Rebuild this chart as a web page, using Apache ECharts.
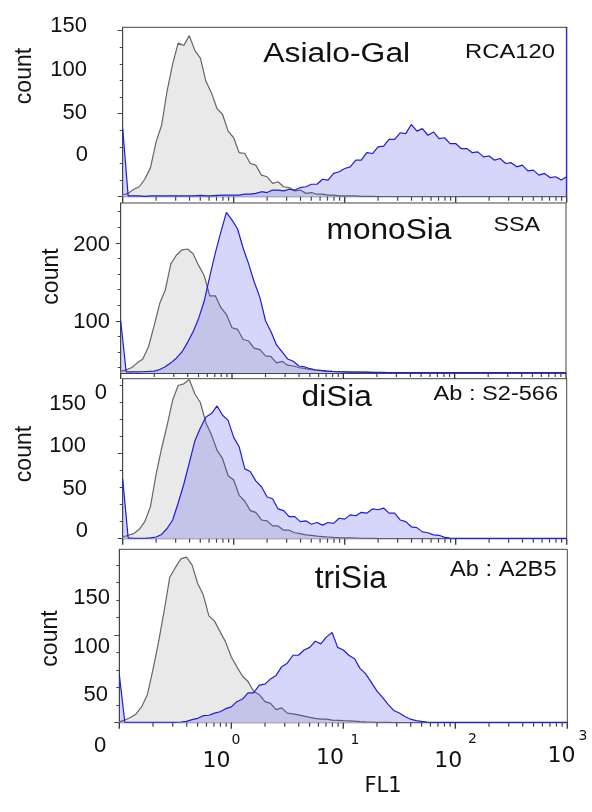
<!DOCTYPE html>
<html><head><meta charset="utf-8">
<script src="https://cdn.jsdelivr.net/npm/echarts@6/dist/echarts.min.js"></script>
<style>html,body{margin:0;padding:0;background:#fff}#c{width:592px;height:812px}</style>
</head><body><div id="c"></div>
<script>
// FL1 channel centres (log scale, 20 per decade)
const fl1 = [0.1,0.112,0.126,0.141,0.158,0.178,0.2,0.224,0.251,0.282,0.316,0.355,0.398,0.447,0.501,0.562,0.631,0.708,0.794,0.891,
1,1.12,1.26,1.41,1.58,1.78,2,2.24,2.51,2.82,3.16,3.55,3.98,4.47,5.01,5.62,6.31,7.08,7.94,8.91,
10,11.2,12.6,14.1,15.8,17.8,20,22.4,25.1,28.2,31.6,35.5,39.8,44.7,50.1,56.2,63.1,70.8,79.4,89.1,
100,112,126,141,158,178,200,224,251,282,316,355,398,447,501,562,631,708,794,891,1000];

// Panel 1: Asialo-Gal / RCA120
const p1Gray = [2,4,9,12,21,35,66,86,127,160, 185,182,194,176,167,139,125,106,99,79, 71,53,52,40,38,26,24,16,18,12,
11,7,8,4,5,3,3,2,2,1, 1,1,1,0.5,0.5,0.5,0,0,0,0, 0,0,0,0,0,0,0,0,0,0, 0,0,0,0,0,0,0,0,0,0, 0,0,0,0,0,0,0,0,0,0, 0];
const p1Blue = [82,1,1,1,0.5,1,1,1,1,1, 1,1,1,1,1.5,1,1,1.5,2,2, 2,2,3,3,4,6,5,8,8,7, 9,8,11,12,15,15,21,20,28,30,
34,36,44,44,53,52,60,61,69,69, 77,76,87,79,82,74,78,70,71,64, 64,58,58,53,54,48,49,44,46,40, 41,36,38,31,32,26,28,23,24,20, 24];
// Panel 2: monoSia / SSA
const p2Gray = [35,37,40,46,51,67,94,122,139,173, 184,191,192,186,171,158,132,132,117,108, 91,89,76,74,65,63,55,54,46,48,
43,42,40,39,37.5,36.5,36,35.5,35,34.8, 34.6,34.4,34.2,34,34,33.8,33.5,33.5,33.5,33.5,
33.5,33.5,33.5,33.5,33.5,33.5,33.5,33.5,33.5,33.5, 33.5,33.5,33.5,33.5,33.5,33.5,33.5,33.5,33.5,33.5, 33.5,33.5,33.5,33.5,33.5,33.5,33.5,33.5,33.5,33.5, 33.5];
const p2Blue = [100,34.5,34.4,34.5,34.6,35,35.5,37.5,41,46, 52,60,72,86,103,125,157,187,214,239, 229,218,193,173,150,130,100,86,69,60,
51,48,42,41,38.5,37.2,36.3,35.5,35,34.6, 34.4,34.2,34.1,34,34,33.9,33.8,33.8,33.6,33.6,
33.6,33.6,33.6,33.6,33.6,33.6,33.6,33.6,33.6,33.6, 33.6,33.6,33.6,33.6,33.6,33.6,33.6,33.6,33.6,33.6, 33.6,33.6,33.6,33.6,33.6,33.6,33.6,33.6,33.6,33.6, 33.6];
// Panel 3: diSia / Ab S2-566
const p3Gray = [2,4,6,11,20,38,76,106,133,163, 180,182,187,170,160,136,122,104,94,74, 69,51,44,33,31,22,21,15,15,10,
10,7,6,4.5,4,3,2.5,2,1.5,1.2, 1,1,0.8,0.5,0.5,0.5,0,0,0,0, 0,0,0,0,0,0,0,0,0,0, 0,0,0,0,0,0,0,0,0,0, 0,0,0,0,0,0,0,0,0,0, 0];
const p3Blue = [70,1,0.5,0.5,0.5,1,2,5,12,22, 42,64,89,115,130,143,147,156,145,139, 119,108,82,79,68,61,49,47,35,33,
26,26,20,21,17,19,16,19,18,24, 23,28,27,31,30,35,34,36,30,30, 22,20,14,13,8,7,4.5,4,1.6,0.8,
0.3,0.3,0.3,0.3,0.3,0.3,0.3,0.3,0.3,0.3, 0.3,0.3,0.3,0.3,0.3,0.3,0.3,0.3,0.3,0.3, 0.3];
// Panel 4: triSia / Ab A2B5
const p4Gray = [1,3,6,10,18,32,61,92,127,166, 177,187,189,180,159,146,122,116,104,92, 75,64,53,47,36,32,24,22,15,17,
11,10,9,7.5,6,5,4,4,3,2.7, 2.3,2,1.7,1.3,1,0.8,0.5,0.5,0.3,0, 0,0,0,0,0,0,0,0,0,0, 0,0,0,0,0,0,0,0,0,0, 0,0,0,0,0,0,0,0,0,0, 0];
const p4Blue = [55,0.5,0.5,0.5,0.5,0.5,0.5,0.5,0.5,0.5, 0.5,0.8,1.5,3.5,5,8,8.5,11,12.5,16, 18,24,27,34,34,43,44,50,54,64,
68,77,77,83,86,93,90,98,103,86, 83,77,73,62,56,46,36,29,21,14, 11,7,4,2.3,1.5,0.8,0.4,0.4,0.4,0.4,
0.4,0.4,0.4,0.4,0.4,0.4,0.4,0.4,0.4,0.4, 0.4,0.4,0.4,0.4,0.4,0.4,0.4,0.4,0.4,0.4, 0.4];

const grayData = [p1Gray, p2Gray, p3Gray, p4Gray];
const blueData = [p1Blue, p2Blue, p3Blue, p4Blue];

// axis ranges and ticks
const yMin = [0, 33, 0, 0];
const yMax = [204, 251, 188, 198];
const yMajor = [[0,100,200],[100,200],[0,100],[0,100]];
const yMinor = [[20,40,60,80,120,140,160,180],[40,60,80,120,140,160,180,220,240],[20,40,60,80,120,140,160,180],[20,40,60,80,120,140,160,180]];
const xMajor = [0.1,1,10,100,1000];
const xMinor = [0.2,0.3,0.4,0.5,0.6,0.7,0.8,0.9,2,3,4,5,6,7,8,9,20,30,40,50,60,70,80,90,200,300,400,500,600,700,800,900];

// text
const panelTitles = ['Asialo-Gal','monoSia','diSia','triSia'];
const probeNames = ['RCA120','SSA','Ab : S2-566','Ab : A2B5'];
const yTickLabels = [['150','100','50','0'],['200','100'],['150','100','50','0','0'],['150','100','50']];
const xTickBase = ['0','10','10','10','10'];
const xTickExp = ['','0','1','2','3'];
const yTitle = 'count';
const xTitle = 'FL1';

const rects = [
  {left:122.7, top:27.3, width:444, height:169.4},
  {left:120.7, top:203, width:445.3, height:170},
  {left:122.7, top:378.7, width:444, height:160},
  {left:119.3, top:549.3, width:448, height:173.4}
];
const frame = '#444';
const AR = 'Liberation Sans, Arial, sans-serif';
const DJ = 'DejaVu Sans, Verdana, sans-serif';

const option = {
  animation:false,
  backgroundColor:'#fff',
  grid:[], xAxis:[], yAxis:[], series:[],
  graphic:{elements:[]}
};
// grids 0-3: data panels; 4-7: minor y tick layers
for (let layer=0; layer<2; layer++){
  rects.forEach(r => option.grid.push(Object.assign({}, r, {
    show: layer===0, borderColor:frame, borderWidth:1, backgroundColor:'transparent',
    outerBoundsMode:'none', containLabel:false})));
}
const hiddenAxis = {axisLine:{show:false, onZero:false}, axisTick:{show:false}, axisLabel:{show:false}, splitLine:{show:false}};

for (let k=0;k<4;k++){
  option.xAxis.push({type:'log', logBase:10, gridIndex:k, min:0.1, max:1000, position:'bottom',
    axisLine:{show:true, onZero:false, lineStyle:{color:frame, width:1}},
    axisTick:{show:false}, axisLabel:{show:false}, splitLine:{show:false}});
  option.yAxis.push({type:'value', gridIndex:k, min:yMin[k], max:yMax[k], position:'left',
    axisLine:{show:true, onZero:false, lineStyle:{color:frame, width:1}},
    axisTick:{show:true, length:5, customValues:yMajor[k], lineStyle:{color:frame, width:1}},
    axisLabel:{show:false}, splitLine:{show:false}});
}
for (let k=0;k<4;k++){
  option.xAxis.push(Object.assign({type:'value', gridIndex:4+k, min:0, max:1, position:'bottom'}, hiddenAxis));
  option.yAxis.push({type:'value', gridIndex:4+k, min:yMin[k], max:yMax[k], position:'left',
    axisLine:{show:false, onZero:false},
    axisTick:{show:true, length:3, customValues:yMinor[k], lineStyle:{color:frame, width:1}},
    axisLabel:{show:false}, splitLine:{show:false}});
}
for (let k=0;k<4;k++){
  option.series.push({type:'line', xAxisIndex:k, yAxisIndex:k, silent:true,
    data: fl1.map((x,i)=>[x, grayData[k][i]]), symbol:'none', showSymbol:false,
    lineStyle:{color:'#666', width:1.2}, areaStyle:{color:'#e9e9e9', opacity:1, origin:'start'}, z:2});
  option.series.push({type:'line', xAxisIndex:k, yAxisIndex:k, silent:true,
    data: fl1.map((x,i)=>[x, blueData[k][i]]), symbol:'none', showSymbol:false,
    lineStyle:{color:'#1c1ce0', width:1.2}, areaStyle:{color:'rgba(50,50,235,0.2)', opacity:1, origin:'start'}, z:3});
  // FL1 axis ticks hanging below each panel: decades long, 2..9 short
  option.series.push({type:'scatter', xAxisIndex:k, yAxisIndex:k, silent:true, clip:false,
    data: xMajor.map(v=>[v, yMin[k]]), symbol:'rect', symbolSize:[1.3,6], symbolOffset:[0,3],
    itemStyle:{color:'#333', opacity:1}, z:4});
  option.series.push({type:'scatter', xAxisIndex:k, yAxisIndex:k, silent:true, clip:false,
    data: xMinor.map(v=>[v, yMin[k]]), symbol:'rect', symbolSize:[1.2,4], symbolOffset:[0,2],
    itemStyle:{color:'#444', opacity:1}, z:4});
}
// blue right edge of the first panel
option.yAxis.push({type:'value', gridIndex:0, min:0, max:204, position:'right',
  axisLine:{show:true, onZero:false, lineStyle:{color:'#2a2ae8', width:1.3}},
  axisTick:{show:false}, axisLabel:{show:false}, splitLine:{show:false}});

const G = option.graphic.elements;
function txt(text, x, y, size, fam, align, sx, rot){
  G.push({type:'text', x:x, y:y, scaleX:sx||1, rotation:rot||0, z:50, silent:true,
    style:{text:text, fontSize:size, fontFamily:fam, fill:'#111', align:align||'center', verticalAlign:'middle'}});
}
// panel titles and probes
const titlePos = [[336.7,55,27,1.18],[389,231,29,1.09],[336.7,398,29,1.09],[350.8,579,31,1.02]];
const probePos = [[510,52.5,19.5,1.22],[516.7,225.5,21,1.11],[495.8,394.5,20,1.18],[503.3,570,21.5,1.10]];
for (let k=0;k<4;k++){
  const t=titlePos[k]; txt(panelTitles[k], t[0], t[1], t[2], AR, 'center', t[3]);
  const p=probePos[k]; txt(probeNames[k], p[0], p[1], p[2], AR, 'center', p[3]);
}
// y tick labels (as placed in the figure)
const yLabPos = [
  [[87,26],[87,69.5],[87,112.5],[88,154.5]],
  [[110,245],[110,322]],
  [[86,404],[86,446],[87,489],[88,530.5],[107,392.5]],
  [[110,598],[110,646.5],[108,695]]
];
for (let k=0;k<4;k++){
  yTickLabels[k].forEach((s,j)=>{ const q=yLabPos[k][j]; txt(s, q[0], q[1], 22, AR, 'right'); });
}
// y titles
const countPos = [[25,76],[52,276.5],[25,454],[50.5,638.5]];
countPos.forEach(q => txt(yTitle, q[0], q[1], 23, AR, 'center', 1, Math.PI/2));
// x tick labels
const xBasePos = [[100,745.5],[216.5,761.5],[330,758.5],[448.3,761],[561.5,756.5]];
const xExpPos = [null,[236,740],[355,740],[472.5,739.5],[583,736.5]];
for (let j=0;j<5;j++){
  txt(xTickBase[j], xBasePos[j][0], xBasePos[j][1], 22, j===0?AR:DJ, 'center');
  if (xExpPos[j]) txt(xTickExp[j], xExpPos[j][0], xExpPos[j][1], 14, DJ, 'center');
}
txt(xTitle, 383, 786.5, 21, DJ, 'center');

const chart = echarts.init(document.getElementById('c'), null, {renderer:'canvas'});
chart.setOption(option);
</script></body></html>
